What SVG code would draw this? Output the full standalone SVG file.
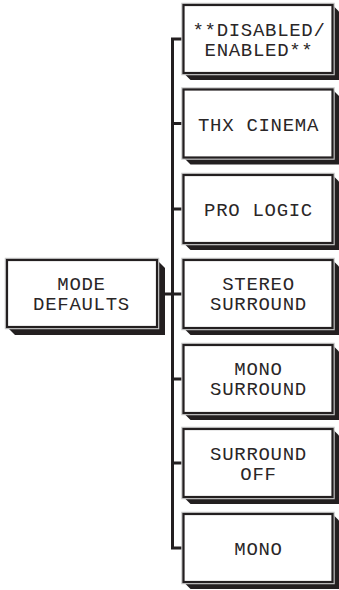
<svg xmlns="http://www.w3.org/2000/svg" width="339" height="590" viewBox="0 0 339 590">
<style>
.sh{fill:#231f20}
.halo{fill:none;stroke:#c8c8c8;stroke-width:4.5}
.bx{fill:#fff;stroke:#231f20;stroke-width:2.2}
.t{font-family:"Liberation Mono","Courier New",monospace;font-size:19px;letter-spacing:0.7px;fill:#2a2627;text-anchor:middle}
.c{fill:none;stroke:#231f20;stroke-width:3}
</style>
<defs>
<g id="rbox">
<polygon class="sh" points="0,68 7,75 156,75 156,7 149,0"/>
<rect class="halo" x="0" y="0" width="149" height="68"/>
<rect class="bx" x="0" y="0" width="149" height="68"/>
</g>
</defs>
<g id="connectors">
<path class="c" d="M183,39 H172.5 V548 H183"/>
<path class="c" d="M172.5,123.5 H183 M172.5,209 H183 M159,294 H183 M172.5,379 H183 M172.5,463 H183"/>
</g>
<g id="mode-defaults">
<polygon class="sh" points="7,327 15,335 165,335 165,268 157,260"/>
<rect class="halo" x="7" y="260" width="150" height="67"/>
<rect class="bx" x="7" y="260" width="150" height="67"/>
<text class="t" x="81.5" y="289.5">MODE</text>
<text class="t" x="81.5" y="309.5">DEFAULTS</text>
</g>
<g id="disabled-enabled">
<use href="#rbox" x="183.5" y="5"/>
<text class="t" x="259" y="36">**DISABLED/</text>
<text class="t" x="259" y="56">ENABLED**</text>
</g>
<g id="thx-cinema">
<use href="#rbox" x="183.5" y="89.5"/>
<text class="t" x="258.5" y="130.5">THX CINEMA</text>
</g>
<g id="pro-logic">
<use href="#rbox" x="183.5" y="175"/>
<text class="t" x="258.5" y="216">PRO LOGIC</text>
</g>
<g id="stereo-surround">
<use href="#rbox" x="183.5" y="260"/>
<text class="t" x="258.5" y="290">STEREO</text>
<text class="t" x="258.5" y="310">SURROUND</text>
</g>
<g id="mono-surround">
<use href="#rbox" x="183.5" y="345"/>
<text class="t" x="258.5" y="375">MONO</text>
<text class="t" x="258.5" y="395">SURROUND</text>
</g>
<g id="surround-off">
<use href="#rbox" x="183.5" y="429"/>
<text class="t" x="258.5" y="460">SURROUND</text>
<text class="t" x="258.5" y="480">OFF</text>
</g>
<g id="mono">
<use href="#rbox" x="183.5" y="514"/>
<text class="t" x="258.5" y="555">MONO</text>
</g>
</svg>
